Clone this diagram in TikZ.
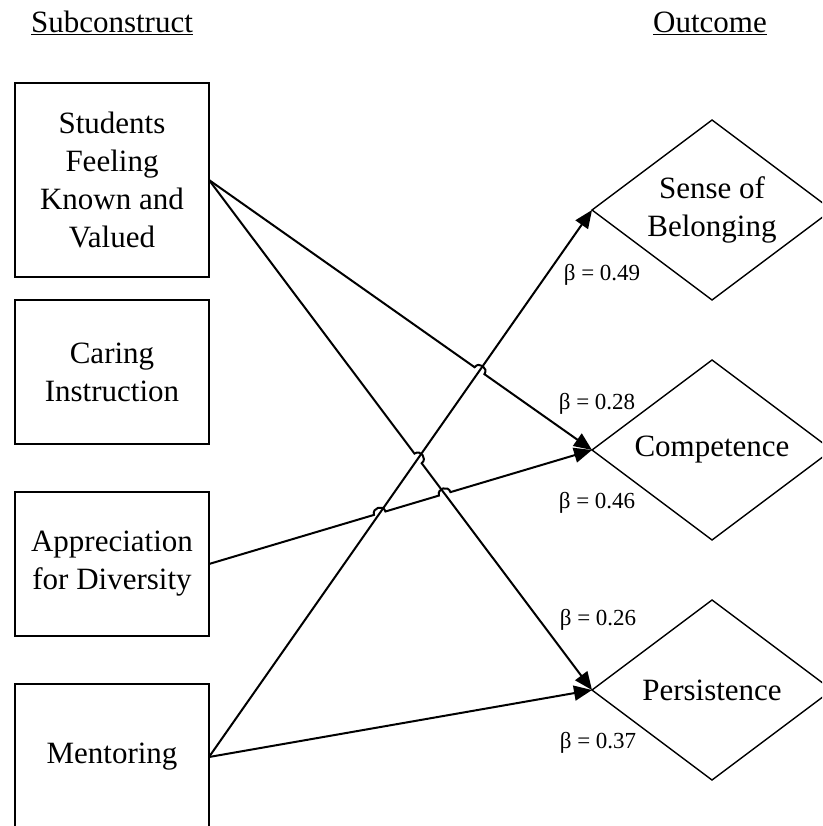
\documentclass[tikz,border=0pt]{standalone}
\usepackage{fontspec}
\setmainfont{Liberation Serif}
\usetikzlibrary{arrows.meta,shapes.geometric,intersections,calc}

\tikzset{
  subbox/.style={draw, line width=1.5pt, minimum width=194pt, inner sep=0pt, outer sep=0pt, align=center, font=\fontsize{31}{38}\selectfont},
  outbox/.style={draw, diamond, line width=1.4pt, minimum width=240pt, minimum height=180pt, aspect=1.333, inner sep=0pt, outer sep=0pt, align=center, font=\fontsize{31}{38}\selectfont},
  heading/.style={anchor=base, font=\fontsize{31}{38}\selectfont},
  betalabel/.style={anchor=base, inner sep=0pt, font=\fontsize{23}{27}\selectfont},
  link/.style={line width=2pt, -{Triangle[length=18pt,width=15pt]}},
  hopover/.style={bend left=90, looseness=1.6}
}

\begin{document}
\begin{tikzpicture}[x=1pt, y=-1pt]
  \useasboundingbox (0,0) rectangle (822,826);
  \clip (0,0) rectangle (822,826);

  % headings
  \node[heading] (hsub) at (112,33) {\underline{Subconstruct}};
  \node[heading] (hout) at (710,33) {\underline{Outcome}};

  % subconstructs
  \node[subbox, minimum height=194pt] (stud) at (112,180) {Students\\Feeling\\Known and\\Valued};
  \node[subbox, minimum height=144pt] (care) at (112,372) {Caring\\Instruction};
  \node[subbox, minimum height=144pt] (appr) at (112,564) {Appreciation\\for Diversity};
  \node[subbox, minimum height=146pt] (ment) at (112,757) {Mentoring};

  % outcomes
  \node[outbox] (sob) at (712,210) {Sense of\\Belonging};
  \node[outbox] (comp) at (712,450) {Competence};
  \node[outbox] (pers) at (712,690) {Persistence};

  % crossing points
  \path[name path=msb] (ment.east) -- (sob.west);
  \path[name path=spr] (stud.east) -- (pers.west);
  \path[name path=scm] (stud.east) -- (comp.west);
  \path[name path=acm] (appr.east) -- (comp.west);
  \path[name intersections={of=scm and msb, by=h1}];
  \path[name intersections={of=spr and msb, by=h2}];
  \path[name intersections={of=acm and msb, by=h3}];
  \path[name intersections={of=acm and spr, by=h4}];

  % paths
  \draw[link] (ment.east) -- (sob.west);
  \draw[link] (ment.east) -- (pers.west);
  \draw[link] (stud.east) -- ($(h1)!6pt!(stud.east)$) to[hopover] ($(h1)!6pt!(comp.west)$) -- (comp.west);
  \draw[link] (stud.east) -- ($(h2)!6pt!(stud.east)$) to[hopover] ($(h2)!6pt!(pers.west)$) -- (pers.west);
  \draw[link] (appr.east) -- ($(h3)!6pt!(appr.east)$) to[hopover] ($(h3)!6pt!(comp.west)$)
    -- ($(h4)!6pt!(appr.east)$) to[hopover] ($(h4)!6pt!(comp.west)$) -- (comp.west);

  % coefficients
  \node[betalabel] (b49) at (602,280) {β = 0.49};
  \node[betalabel] (b28) at (597,409) {β = 0.28};
  \node[betalabel] (b46) at (597,508) {β = 0.46};
  \node[betalabel] (b26) at (598,625) {β = 0.26};
  \node[betalabel] (b37) at (598,748) {β = 0.37};
\end{tikzpicture}
\end{document}
